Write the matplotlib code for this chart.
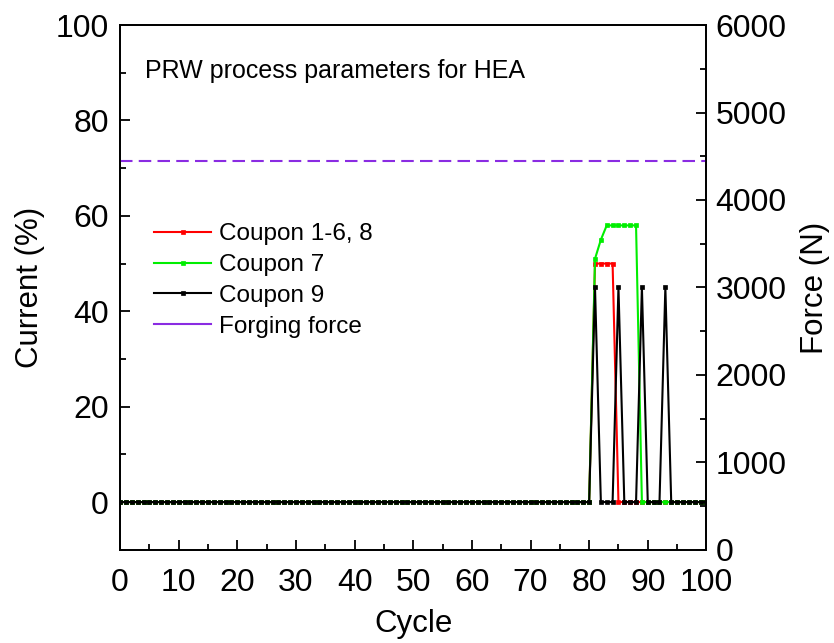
import matplotlib.pyplot as plt
import numpy as np

plt.rcParams['font.family'] = ['Liberation Sans', 'DejaVu Sans']

cycles = np.arange(0, 101)

# nonzero current values (%), everything else is 0
red_peaks = {81: 50, 82: 50, 83: 50, 84: 50}
green_peaks = {81: 51, 82: 55, 83: 58, 84: 58, 85: 58, 86: 58, 87: 58, 88: 58}
black_peaks = {81: 45, 85: 45, 89: 45, 93: 45}
forging_force = 4450  # N

red = np.array([red_peaks.get(c, 0) for c in cycles])
green = np.array([green_peaks.get(c, 0) for c in cycles])
black = np.array([black_peaks.get(c, 0) for c in cycles])

fig = plt.figure(figsize=(8.34, 6.43), dpi=100)
ax1 = fig.add_axes([0.144, 0.145, 0.703, 0.816])
ax2 = ax1.twinx()

mk = dict(marker='s', ms=2.6, mew=0.5)
ax1.plot(cycles, red, color='red', lw=1.5, label='Coupon 1-6, 8', **mk)
ax1.plot(cycles, green, color='#00ee00', lw=1.5, label='Coupon 7', **mk)
ax1.plot(cycles, black, color='black', lw=1.5, label='Coupon 9', **mk)
ax2.plot([0, 100], [forging_force, forging_force], color='#8a2be2', lw=1.5,
         dashes=(6, 3))
ax1.plot([], [], color='#8a2be2', lw=1.5, label='Forging force')

ax1.set_xlim(0, 100)
ax1.set_ylim(-10, 100)
ax2.set_ylim(0, 6000)

ax1.set_xticks(np.arange(0, 101, 10))
ax1.set_xticks(np.arange(0, 101, 5), minor=True)
ax1.set_yticks(np.arange(0, 101, 20))
ax1.set_yticks(np.arange(-10, 101, 10), minor=True)
ax2.set_yticks(np.arange(0, 6001, 1000))
ax2.set_yticks(np.arange(0, 6001, 500), minor=True)

for ax in (ax1, ax2):
    ax.tick_params(which='both', direction='in', labelsize=23, width=1.3)
    ax.tick_params(which='major', length=7)
    ax.tick_params(which='minor', length=4)
    for s in ax.spines.values():
        s.set_linewidth(1.3)
ax1.tick_params(top=False, right=False)
ax1.tick_params(axis='y', pad=8)
ax2.tick_params(axis='y', pad=6.5)
ax1.tick_params(axis='x', pad=13)

ax1.set_xlabel('Cycle', fontsize=22.5, labelpad=8)
ax1.set_ylabel('Current (%)', fontsize=22.5, labelpad=8)
ax2.set_ylabel('Force (N)', fontsize=22.5, labelpad=10)

ax1.text(4.3, 89, 'PRW process parameters for HEA', fontsize=18, va='baseline')
ax1.legend(loc='upper left', bbox_to_anchor=(0.058, 0.622), frameon=False, fontsize=17.5,
           handlelength=2.35, handletextpad=0.3, labelspacing=0.36,
           borderaxespad=0, borderpad=0)

fig.savefig('out.png', dpi=100)
